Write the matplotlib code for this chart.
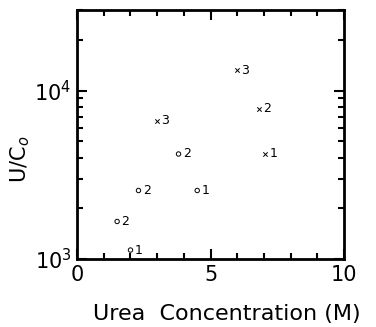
import numpy as np
import matplotlib.pyplot as plt
from matplotlib.ticker import LogLocator, FixedLocator, NullFormatter

# data points
x_cross = [6.0, 6.8, 3.0, 7.05]
y_cross = [13200, 7800, 6600, 4200]
lab_cross = ['3', '2', '3', '1']

x_circle = [3.8, 4.5, 2.3, 1.5, 2.0]
y_circle = [4200, 2550, 2550, 1670, 1130]
lab_circle = ['2', '1', '2', '2', '1']

xticks = [0, 5, 10]
ytick_labels = ['10$^3$', '10$^4$']

fig = plt.figure(figsize=(3.76, 3.27), dpi=100)
ax = fig.add_axes([0.205, 0.208, 0.71, 0.761])

ax.scatter(x_cross, y_cross, marker='x', s=10, color='black', linewidths=0.7)
ax.scatter(x_circle, y_circle, marker='o', s=10, facecolors='none',
           edgecolors='black', linewidths=0.7)
for x, y, t in zip(x_cross, y_cross, lab_cross):
    ax.annotate(t, (x, y), xytext=(3, 0), textcoords='offset points',
                va='center', ha='left', fontsize=9)
for x, y, t in zip(x_circle, y_circle, lab_circle):
    ax.annotate(t, (x, y), xytext=(3, 0), textcoords='offset points',
                va='center', ha='left', fontsize=9)

ax.set_yscale('log')
ax.set_xlim(0, 10)
ax.set_ylim(1000, 30000)

ax.xaxis.set_major_locator(FixedLocator(xticks))
ax.xaxis.set_minor_locator(FixedLocator(np.arange(0, 11, 1)))
ax.set_xticklabels([str(v) for v in xticks])
ax.yaxis.set_major_locator(FixedLocator([1000, 10000]))
ax.yaxis.set_minor_locator(LogLocator(base=10, subs=np.arange(2, 10)))
ax.yaxis.set_minor_formatter(NullFormatter())
ax.set_yticklabels(ytick_labels)

ax.tick_params(which='both', direction='in', top=True, right=True, width=1.5)
ax.tick_params(which='major', length=7, labelsize=15, pad=4)
ax.tick_params(which='minor', length=4)
for s in ax.spines.values():
    s.set_linewidth(2)

ax.set_xlabel('Urea  Concentration (M)', fontsize=16)
ax.xaxis.set_label_coords(0.56, -0.18)
ax.set_ylabel('U/C$_o$', fontsize=15)
ax.yaxis.set_label_coords(-0.17, 0.40)

fig.savefig('out.png', dpi=100)
